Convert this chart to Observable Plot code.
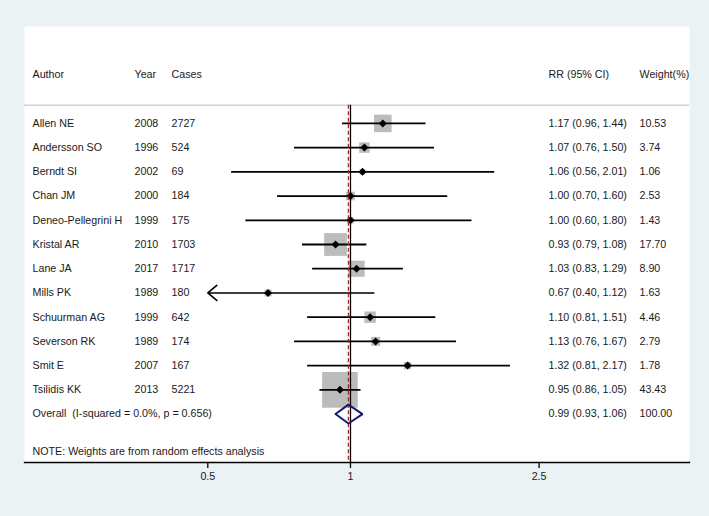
<!DOCTYPE html>
<html>
<head>
<meta charset="utf-8">
<script src="https://cdn.jsdelivr.net/npm/d3@7"></script>
<script src="https://cdn.jsdelivr.net/npm/@observablehq/plot@0.6"></script>
<style>
  html, body { margin: 0; padding: 0; background: #eaf2f3; }
  #chart svg { display: block; }
</style>
</head>
<body>
<div id="chart"></div>
<script>
// ---- data ----
const authors = ["Allen NE","Andersson SO","Berndt SI","Chan JM","Deneo-Pellegrini H","Kristal AR","Lane JA","Mills PK","Schuurman AG","Severson RK","Smit E","Tsilidis KK"];
const years   = [2008,1996,2002,2000,1999,2010,2017,1989,1999,1989,2007,2013];
const cases   = [2727,524,69,184,175,1703,1717,180,642,174,167,5221];
const rr      = [1.17,1.07,1.06,1.00,1.00,0.93,1.03,0.67,1.10,1.13,1.32,0.95];
const lower   = [0.96,0.76,0.56,0.70,0.60,0.79,0.83,0.40,0.81,0.76,0.81,0.86];
const upper   = [1.44,1.50,2.01,1.60,1.80,1.08,1.29,1.12,1.51,1.67,2.17,1.05];
const weights = [10.53,3.74,1.06,2.53,1.43,17.70,8.90,1.63,4.46,2.79,1.78,43.43];
const overallLabel = "Overall\u00a0\u00a0(I-squared = 0.0%, p = 0.656)";
const overallRR = 0.99, overallLower = 0.93, overallUpper = 1.06, overallWeight = 100.00;
const headers = ["Author","Year","Cases","RR (95% CI)","Weight(%)"];
const noteText = "NOTE: Weights are from random effects analysis";
const xTicks = [0.5, 1, 2.5];
const xMin = 0.5, xMax = 2.5;

// ---- derived table ----
const studies = authors.map((a, i) => ({
  row: i, author: a, year: years[i], cases: cases[i], rr: rr[i],
  lo: lower[i], hi: upper[i], w: weights[i],
  loC: Math.max(lower[i], xMin), hiC: Math.min(upper[i], xMax),
  clipped: lower[i] < xMin,
  ci: `${rr[i].toFixed(2)} (${lower[i].toFixed(2)}, ${upper[i].toFixed(2)})`,
  wt: weights[i].toFixed(2)
}));
const overallRow = studies.length;
const noteRow = overallRow + 1.55;
const headerRow = -2;
const sepRow = -0.75;
const axisRow = overallRow + 2;
const dHalf = 0.39;
const diamond = [
  {x: overallLower, y: overallRow},
  {x: overallRR, y: overallRow - dHalf},
  {x: overallUpper, y: overallRow},
  {x: overallRR, y: overallRow + dHalf},
  {x: overallLower, y: overallRow}
];

const font = "Liberation Sans, Arial, sans-serif";
const fs = 10.7;
const txt = "#1a1a1a";
const colDx = {author: 8, year: 110, cases: 147, ci: -141, wt: -50};

const plot = Plot.plot({
  width: 709, height: 516,
  marginLeft: 24, marginRight: 20, marginTop: 26, marginBottom: 54,
  style: {background: "#eaf2f3", fontFamily: font, fontSize: fs + "px", color: txt},
  x: {type: "log", domain: [xMin, xMax], range: [207.3, 538.6]},
  y: {type: "linear", domain: [-4, axisRow], range: [26, 462]},
  r: {type: "sqrt", domain: [0, 43.43], range: [0, 20.1]},
  marks: [
    Plot.frame({fill: "white", stroke: "none"}),
    Plot.ruleY([sepRow], {stroke: "#cfd3d4", strokeWidth: 1.5}),
    // squares (area ~ weight)
    Plot.dot(studies, {x: "rr", y: "row", r: "w", symbol: "square", fill: "#bcbcbc", stroke: "none"}),
    // confidence intervals
    Plot.link(studies.filter(d => !d.clipped), {x1: "loC", x2: "hiC", y1: "row", y2: "row", stroke: "black", strokeWidth: 1.8}),
    Plot.arrow(studies.filter(d => d.clipped), {x1: "hiC", x2: "loC", y1: "row", y2: "row", stroke: "black", strokeWidth: 1.6, headLength: 11, headAngle: 80}),
    // point estimates
    Plot.dot(studies, {x: "rr", y: "row", symbol: "diamond2", r: 3.6, fill: "black", stroke: "none"}),
    // null line and overall line
    Plot.ruleX([1], {y1: sepRow, y2: axisRow, stroke: "black", strokeWidth: 1.3}),
    Plot.ruleX([overallRR], {y1: sepRow, y2: axisRow, stroke: "#a8262b", strokeWidth: 1.3, strokeDasharray: "4,2.5"}),
    // overall diamond
    Plot.line(diamond, {x: "x", y: "y", stroke: "#141a6e", strokeWidth: 2, strokeLinejoin: "miter"}),
    // header
    Plot.text([headers[0]], {y: [headerRow], frameAnchor: "left", dx: colDx.author, textAnchor: "start", fill: txt}),
    Plot.text([headers[1]], {y: [headerRow], frameAnchor: "left", dx: colDx.year, textAnchor: "start", fill: txt}),
    Plot.text([headers[2]], {y: [headerRow], frameAnchor: "left", dx: colDx.cases, textAnchor: "start", fill: txt}),
    Plot.text([headers[3]], {y: [headerRow], frameAnchor: "right", dx: colDx.ci, textAnchor: "start", fill: txt}),
    Plot.text([headers[4]], {y: [headerRow], frameAnchor: "right", dx: colDx.wt, textAnchor: "start", fill: txt}),
    // study rows
    Plot.text(studies, {y: "row", text: "author", frameAnchor: "left", dx: colDx.author, textAnchor: "start", fill: txt}),
    Plot.text(studies, {y: "row", text: d => String(d.year), frameAnchor: "left", dx: colDx.year, textAnchor: "start", fill: txt}),
    Plot.text(studies, {y: "row", text: d => String(d.cases), frameAnchor: "left", dx: colDx.cases, textAnchor: "start", fill: txt}),
    Plot.text(studies, {y: "row", text: "ci", frameAnchor: "right", dx: colDx.ci, textAnchor: "start", fill: txt}),
    Plot.text(studies, {y: "row", text: "wt", frameAnchor: "right", dx: colDx.wt, textAnchor: "start", fill: txt}),
    // overall row
    Plot.text([overallLabel], {y: [overallRow], frameAnchor: "left", dx: colDx.author, textAnchor: "start", fill: txt}),
    Plot.text([`${overallRR.toFixed(2)} (${overallLower.toFixed(2)}, ${overallUpper.toFixed(2)})`], {y: [overallRow], frameAnchor: "right", dx: colDx.ci, textAnchor: "start", fill: txt}),
    Plot.text([overallWeight.toFixed(2)], {y: [overallRow], frameAnchor: "right", dx: colDx.wt, textAnchor: "start", fill: txt}),
    // note
    Plot.text([noteText], {y: [noteRow], frameAnchor: "left", dx: colDx.author, textAnchor: "start", fill: txt}),
    // axis
    Plot.frame({anchor: "bottom", stroke: "black", strokeWidth: 1.3}),
    Plot.axisX({ticks: xTicks, tickFormat: d => String(d), tickSize: 6, tickPadding: 4, stroke: "black", strokeWidth: 1.3, fill: txt, label: null}),
    Plot.axisY({ticks: [], label: null})
  ]
});
document.getElementById("chart").appendChild(plot);
</script>
</body>
</html>
